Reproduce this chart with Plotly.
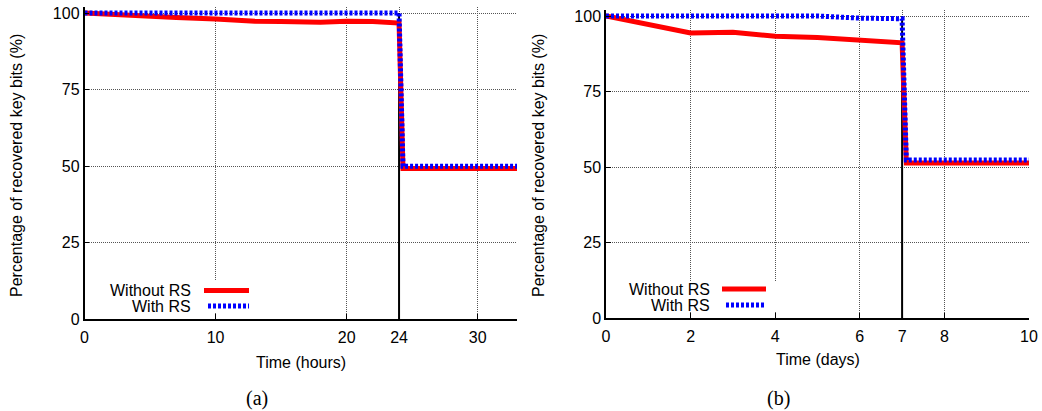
import plotly.graph_objects as go

# ---- data ----
hours = [0, 2, 4, 5, 7, 10, 12, 13, 15, 18, 20, 21, 22, 24, 24.3, 28, 33]
hours_without_rs = [100, 99.5, 99.0, 98.6, 98.5, 98.0, 97.4, 97.3, 97.2, 97.0, 97.3, 97.4, 97.2, 96.7, 49.2, 49.2, 49.2]
hours_with_rs = [100, 100, 100, 100, 100, 100, 100, 100, 100, 100, 100, 100, 100, 100, 49.9, 49.9, 49.9]
hours_ticks = [0, 10, 20, 24, 30]
hours_cut = 24

days = [0, 1, 2, 3, 4, 5, 6, 7, 7.1, 8, 9, 10]
days_without_rs = [100, 97.4, 94.4, 94.6, 93.3, 92.9, 92.0, 91.1, 51.3, 51.3, 51.3, 51.3]
days_with_rs = [100, 100, 100, 100, 100, 100, 99.3, 99.1, 52.3, 52.3, 52.3, 52.3]
days_ticks = [0, 2, 4, 6, 7, 8, 10]
days_cut = 7

y_ticks = [0, 25, 50, 75, 100]
series_names = ["Without RS", "With RS"]

W, H = 1042, 411
FONT = "Liberation Sans, Arial, Helvetica, sans-serif"
SERIF = "Liberation Serif, Times New Roman, serif"
RED = "#ff0000"
BLUE = "#0000ff"


def px_x(p):
    return p / W


def px_y(p):
    return 1 - p / H


fig = go.Figure()

# vertical cut lines
fig.add_trace(go.Scatter(x=[hours_cut, hours_cut], y=[0, 100], mode="lines",
                         line=dict(color="black", width=2), xaxis="x", yaxis="y",
                         showlegend=False, hoverinfo="skip"))
fig.add_trace(go.Scatter(x=[days_cut, days_cut], y=[0, 100], mode="lines",
                         line=dict(color="black", width=2), xaxis="x2", yaxis="y2",
                         showlegend=False, hoverinfo="skip"))

# series
fig.add_trace(go.Scatter(x=hours, y=hours_without_rs, mode="lines", name=series_names[0],
                         line=dict(color=RED, width=5), xaxis="x", yaxis="y", showlegend=False))
fig.add_trace(go.Scatter(x=hours, y=hours_with_rs, mode="lines", name=series_names[1],
                         line=dict(color=BLUE, width=5, dash="3px,2px"), xaxis="x", yaxis="y",
                         showlegend=False))
fig.add_trace(go.Scatter(x=days, y=days_without_rs, mode="lines", name=series_names[0],
                         line=dict(color=RED, width=5), xaxis="x2", yaxis="y2", showlegend=False))
fig.add_trace(go.Scatter(x=days, y=days_with_rs, mode="lines", name=series_names[1],
                         line=dict(color=BLUE, width=5, dash="3px,2px"), xaxis="x2", yaxis="y2",
                         showlegend=False))

axis_common = dict(
    showline=True, linecolor="black", linewidth=1.5, mirror=False,
    ticks="inside", ticklen=5, tickcolor="black", tickwidth=1,
    showgrid=True, gridcolor="#555555", gridwidth=1, griddash="1px,1px",
    zeroline=False, automargin=False, ticklabeloverflow="allow",
    tickfont=dict(family=FONT, size=16, color="black"),
)

# left panel: 100 -> y=13px, 0 -> y=319px ; right: 100 -> 16px, 0 -> 318px
ytop_l = 102
top_l = 319 - ytop_l * (319 - 13) / 100
ytop_r = 102
top_r = 318 - ytop_r * (318 - 16) / 100

fig.update_layout(
    width=W, height=H,
    margin=dict(l=0, r=0, t=0, b=0, autoexpand=False),
    paper_bgcolor="white", plot_bgcolor="white",
    font=dict(family=FONT, size=16, color="black"),
    xaxis=dict(domain=[px_x(84.5), px_x(517)], range=[0, 33], tickvals=hours_ticks,
               anchor="y", ticklabelstandoff=3, **axis_common),
    yaxis=dict(domain=[px_y(319), px_y(top_l)], range=[0, ytop_l], tickvals=y_ticks,
               anchor="x", **axis_common),
    xaxis2=dict(domain=[px_x(606), px_x(1029)], range=[0, 10], tickvals=days_ticks,
                anchor="y2", ticklabelstandoff=3, **axis_common),
    yaxis2=dict(domain=[px_y(318), px_y(top_r)], range=[0, ytop_r], tickvals=y_ticks,
                anchor="x2", **axis_common),
)

shapes = []
annotations = []


def add_legend(box, text_right, y_rows, sample_x):
    x0, x1, y0, y1 = box
    shapes.append(dict(type="rect", xref="paper", yref="paper", layer="above",
                       x0=px_x(x0), x1=px_x(x1), y0=px_y(y1), y1=px_y(y0),
                       fillcolor="white", line=dict(width=0)))
    styles = [dict(color=RED, width=5), dict(color=BLUE, width=5, dash="3px,2px")]
    for name, yy, st, (sx0, sx1) in zip(series_names, y_rows, styles, sample_x):
        shapes.append(dict(type="line", xref="paper", yref="paper", layer="above",
                           x0=px_x(sx0), x1=px_x(sx1), y0=px_y(yy), y1=px_y(yy), line=st))
        annotations.append(dict(text=name, xref="paper", yref="paper", x=px_x(text_right),
                                y=px_y(yy), xanchor="right", yanchor="middle", showarrow=False,
                                font=dict(family=FONT, size=16, color="black")))


add_legend((95, 253, 281, 313), 193, [290.5, 306], [(204, 249), (208, 249)])
add_legend((615, 780, 281, 312), 712, [289, 305], [(722, 766), (726, 766)])

# axis titles
for text, x, y in [("Time (hours)", 300.7, 362), ("Time (days)", 817.5, 359)]:
    annotations.append(dict(text=text, xref="paper", yref="paper", x=px_x(x), y=px_y(y),
                            xanchor="center", yanchor="middle", showarrow=False,
                            font=dict(family=FONT, size=16, color="black")))
for x in [17, 539]:
    annotations.append(dict(text="Percentage of recovered key bits (%)", xref="paper",
                            yref="paper", x=px_x(x), y=px_y(166), textangle=-90,
                            xanchor="center", yanchor="middle", showarrow=False,
                            font=dict(family=FONT, size=16, color="black")))
# panel captions
for text, x in [("(a)", 257), ("(b)", 778)]:
    annotations.append(dict(text=text, xref="paper", yref="paper", x=px_x(x), y=px_y(398),
                            xanchor="center", yanchor="middle", showarrow=False,
                            font=dict(family=SERIF, size=20, color="black")))

fig.update_layout(shapes=shapes, annotations=annotations)
# remove the default 8px page margin so the figure fills the 1042x411 window exactly
fig.write_html("out.html", config={"displayModeBar": False},
               post_script="document.body.style.margin='0';")
